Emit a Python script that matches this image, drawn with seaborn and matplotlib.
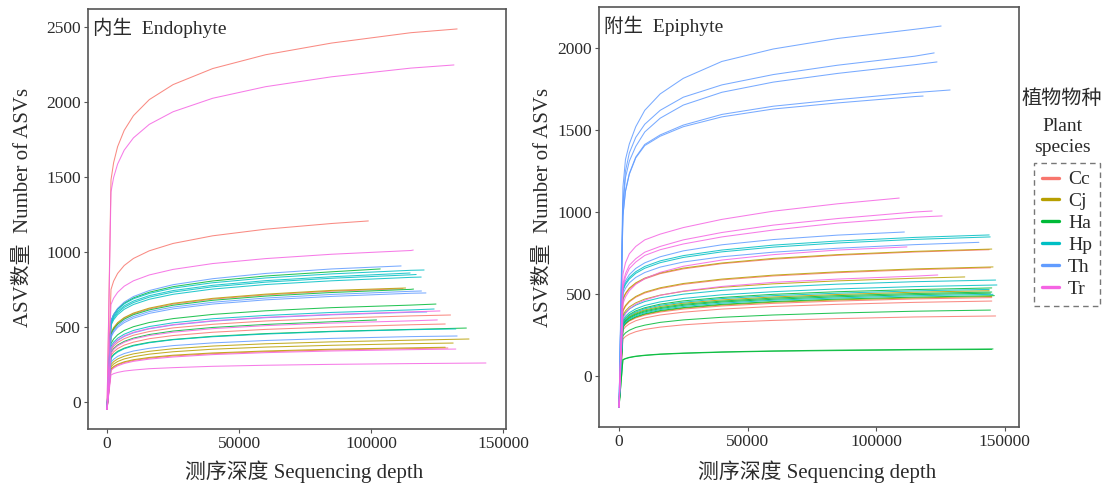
import matplotlib
matplotlib.use("Agg")
import matplotlib.pyplot as plt
import pandas as pd
import seaborn as sns
from matplotlib.lines import Line2D

# Rarefaction curves: ASV counts read at a shared set of sequencing depths,
# each curve stopping at its own final depth (last value = final depth).
grid_depths = [0, 1500, 2500, 4000, 6500, 10000, 16000, 25000, 40000, 60000, 85000, 115000]

species_order = ["Cc", "Cj", "Ha", "Hp", "Th", "Tr"]
species_colors = ["#F8766D", "#B79F00", "#00BA38", "#00BFC4", "#619CFF", "#F564E3"]

# ---- Endophyte samples ----
endo_species = ["Cc", "Tr", "Cc", "Tr", "Th", "Ha", "Hp", "Hp", "Hp", "Hp",
                "Cj", "Cc", "Ha", "Th", "Th", "Ha", "Hp", "Tr", "Th", "Cc",
                "Ha", "Tr", "Cc", "Ha", "Hp", "Th", "Cj", "Cj", "Cc", "Tr",
                "Cj", "Tr"]
endo_end_depth = [132500, 131300, 98900, 115900, 111300, 103400, 120000, 114700, 118900, 117000,
                  113000, 112000, 116000, 119000, 120700, 124500, 123800, 126000, 121000, 130000,
                  102000, 125000, 128000, 136000, 132000, 132500, 137000, 131000, 129000, 132000,
                  128000, 143400]
endo_asv = [
    [-50, 1480, 1596, 1702, 1811, 1909, 2016, 2116, 2223, 2315, 2393, 2462, 2487],
    [-50, 1400, 1497, 1586, 1679, 1761, 1851, 1935, 2025, 2102, 2168, 2226, 2247],
    [-50, 750, 806, 857, 910, 957, 1008, 1057, 1108, 1152, 1190, 1207],
    [-50, 650, 692, 731, 772, 808, 847, 884, 923, 956, 985, 1010, 1013],
    [-50, 540, 584, 624, 666, 703, 743, 782, 822, 857, 887, 907],
    [-50, 540, 582, 620, 659, 694, 732, 769, 807, 840, 868, 887],
    [-50, 540, 580, 616, 654, 688, 724, 759, 795, 827, 854, 878, 880],
    [-50, 530, 569, 604, 641, 673, 709, 743, 778, 809, 835, 860],
    [-50, 510, 548, 582, 618, 650, 685, 718, 753, 783, 808, 831, 833],
    [-50, 520, 559, 594, 631, 663, 699, 733, 768, 799, 825, 848, 850],
    [-50, 460, 496, 529, 563, 593, 626, 658, 691, 719, 744, 760],
    [-50, 455, 491, 524, 558, 588, 621, 653, 686, 714, 739, 755],
    [-50, 450, 485, 518, 552, 582, 614, 645, 678, 706, 730, 751, 753],
    [-50, 440, 475, 507, 541, 570, 603, 633, 665, 693, 717, 738, 740],
    [-50, 430, 465, 497, 529, 559, 591, 621, 653, 681, 704, 725, 727],
    [-50, 390, 420, 448, 477, 502, 530, 556, 584, 608, 629, 646, 653],
    [-50, 370, 399, 425, 452, 477, 503, 528, 555, 577, 597, 614, 620],
    [-50, 360, 388, 414, 441, 465, 491, 516, 542, 565, 584, 601, 607],
    [-50, 355, 384, 410, 437, 461, 488, 513, 539, 562, 581, 598, 600],
    [-50, 345, 372, 397, 422, 445, 470, 494, 518, 540, 558, 574, 580],
    [-50, 330, 356, 380, 404, 426, 450, 473, 497, 517, 535, 547],
    [-50, 325, 351, 374, 398, 420, 443, 465, 489, 509, 526, 541, 547],
    [-50, 310, 334, 356, 379, 399, 422, 443, 465, 484, 500, 515, 520],
    [-50, 295, 317, 338, 359, 378, 398, 417, 438, 456, 471, 484, 493],
    [-50, 290, 313, 333, 355, 374, 395, 415, 435, 453, 469, 482, 487],
    [-50, 265, 285, 304, 323, 340, 358, 376, 394, 410, 424, 436, 440],
    [-50, 250, 269, 287, 305, 321, 338, 355, 373, 388, 401, 412, 420],
    [-50, 235, 253, 270, 287, 302, 319, 335, 352, 366, 378, 389, 393],
    [-50, 215, 232, 247, 263, 277, 292, 307, 322, 335, 347, 356, 360],
    [-50, 210, 226, 241, 257, 271, 286, 300, 316, 329, 340, 349, 353],
    [-50, 220, 237, 252, 268, 282, 297, 312, 327, 340, 352, 361, 365],
    [-50, 180, 189, 197, 206, 213, 222, 229, 238, 245, 251, 256, 260],
]

# ---- Epiphyte samples ----
epi_species = ["Th", "Th", "Th", "Th", "Th", "Th", "Th", "Hp", "Hp", "Tr",
               "Tr", "Tr", "Tr", "Tr", "Cj", "Cc", "Cj", "Cc", "Cj", "Hp",
               "Hp", "Ha", "Hp", "Cj", "Ha", "Ha", "Hp", "Ha", "Cj", "Cc",
               "Cc", "Ha", "Cc", "Ha", "Ha"]
epi_end_depth = [125300, 122600, 123700, 128800, 118300, 111000, 140000, 144000, 144400, 109000,
                 121800, 125700, 112000, 124000, 145000, 144000, 145500, 144500, 134500, 146500,
                 147000, 145000, 144000, 144000, 145000, 144500, 145500, 146000, 145000, 145000,
                 145000, 144500, 146500, 145500, 145000]
epi_asv = [
    [-190, 1150, 1320, 1415, 1520, 1620, 1720, 1815, 1918, 1994, 2058, 2114, 2134],
    [-190, 1050, 1250, 1360, 1455, 1535, 1620, 1700, 1775, 1838, 1895, 1950, 1970],
    [-190, 1030, 1210, 1310, 1400, 1488, 1572, 1652, 1730, 1792, 1845, 1898, 1915],
    [-190, 980, 1130, 1235, 1335, 1412, 1470, 1530, 1595, 1645, 1685, 1728, 1744],
    [-190, 975, 1125, 1230, 1330, 1405, 1462, 1520, 1580, 1628, 1665, 1704, 1707],
    [-190, 540, 581, 618, 656, 690, 727, 763, 800, 832, 859, 878],
    [-190, 500, 535, 568, 601, 631, 664, 695, 727, 755, 779, 801, 815],
    [-190, 530, 567, 601, 636, 668, 702, 734, 768, 798, 823, 845, 860],
    [-190, 520, 557, 591, 626, 657, 691, 723, 757, 786, 811, 833, 848],
    [-190, 620, 690, 745, 790, 830, 865, 905, 955, 1005, 1050, 1085],
    [-190, 560, 625, 675, 715, 755, 790, 830, 875, 920, 960, 1000, 1006],
    [-190, 540, 605, 655, 695, 735, 770, 805, 848, 890, 932, 968, 976],
    [-190, 440, 482, 520, 559, 594, 632, 669, 707, 740, 768, 787],
    [-190, 350, 381, 409, 438, 463, 492, 518, 546, 571, 591, 609, 616],
    [-190, 470, 504, 536, 568, 597, 628, 658, 689, 717, 740, 760, 774],
    [-190, 465, 499, 531, 563, 592, 624, 653, 685, 712, 736, 756, 770],
    [-190, 400, 430, 457, 485, 511, 538, 564, 591, 615, 635, 653, 665],
    [-190, 395, 425, 452, 480, 506, 533, 559, 586, 610, 630, 648, 660],
    [-190, 370, 397, 421, 446, 469, 493, 516, 541, 562, 580, 596, 604],
    [-190, 360, 385, 409, 432, 454, 477, 499, 522, 542, 560, 575, 585],
    [-190, 340, 364, 386, 409, 430, 452, 473, 495, 514, 531, 545, 555],
    [-190, 330, 353, 375, 397, 416, 438, 458, 479, 498, 514, 527, 537],
    [-190, 325, 348, 369, 390, 410, 431, 450, 472, 490, 505, 519, 528],
    [-190, 320, 342, 363, 384, 403, 424, 444, 464, 482, 497, 511, 520],
    [-190, 315, 337, 358, 378, 397, 417, 437, 457, 475, 490, 503, 512],
    [-190, 310, 332, 352, 373, 391, 411, 431, 451, 468, 483, 496, 505],
    [-190, 305, 327, 347, 367, 385, 405, 424, 444, 462, 476, 489, 498],
    [-190, 300, 321, 341, 361, 379, 399, 417, 437, 454, 469, 481, 490],
    [-190, 298, 319, 338, 358, 376, 395, 414, 433, 450, 464, 476, 485],
    [-190, 295, 315, 335, 354, 371, 390, 408, 427, 443, 457, 470, 478],
    [-190, 280, 300, 318, 337, 354, 372, 389, 408, 424, 437, 449, 457],
    [-190, 245, 263, 279, 296, 310, 327, 342, 358, 372, 384, 395, 402],
    [-190, 225, 241, 255, 270, 284, 298, 312, 327, 339, 350, 360, 366],
    [-190, 100, 107, 114, 121, 127, 134, 140, 147, 153, 158, 162, 165],
    [-190, 98, 105, 112, 119, 125, 132, 138, 145, 151, 155, 159, 162],
]

x_ticks = [0, 50000, 100000, 150000]
endo_y_ticks = [0, 500, 1000, 1500, 2000, 2500]
epi_y_ticks = [0, 500, 1000, 1500, 2000]


def to_long(species, ends, asv):
    rows = []
    for i, (sp, end, vals) in enumerate(zip(species, ends, asv)):
        depths = [g for g in grid_depths if g < end] + [end]
        if len(depths) != len(vals):
            raise ValueError(f"sample {i}: {len(depths)} depths vs {len(vals)} values")
        for d, v in zip(depths, vals):
            rows.append((i, sp, d, v))
    return pd.DataFrame(rows, columns=["sample", "species", "depth", "asv"])


sns.set_theme(style="white")
plt.rcParams["font.family"] = ["Liberation Serif", "Noto Sans CJK SC"]

TEXT = "#2b2b2b"
FRAME = "#555555"

fig = plt.figure(figsize=(11.09, 4.93), dpi=100)
ax_l = fig.add_axes([88 / 1109, 64 / 493, 418 / 1109, 420 / 493])
ax_r = fig.add_axes([599 / 1109, 66 / 493, 420 / 1109, 420 / 493])

panels = [
    (ax_l, to_long(endo_species, endo_end_depth, endo_asv), endo_y_ticks,
     (-7200, 151000), (-180, 2620), "内生  Endophyte"),
    (ax_r, to_long(epi_species, epi_end_depth, epi_asv), epi_y_ticks,
     (-7800, 155600), (-311, 2250), "附生  Epiphyte"),
]

for ax, df, yt, xl, yl, title in panels:
    sns.lineplot(data=df, x="depth", y="asv", hue="species", hue_order=species_order,
                 palette=species_colors, units="sample", estimator=None, sort=False,
                 linewidth=0.75, alpha=0.85, legend=False, ax=ax)
    ax.set_xlim(*xl)
    ax.set_ylim(*yl)
    ax.set_xticks(x_ticks)
    ax.set_xticklabels([str(t) for t in x_ticks])
    ax.set_yticks(yt)
    ax.set_yticklabels([str(t) for t in yt])
    ax.set_xlabel("")
    ax.set_ylabel("")
    ax.tick_params(bottom=True, left=True, direction="out", length=3, width=0.8,
                   color=FRAME, labelsize=12.5, labelcolor=TEXT, pad=2)
    for s in ax.spines.values():
        s.set_color(FRAME)
        s.set_linewidth(1.2)
    ax.text(0.012, 0.955, title, transform=ax.transAxes, fontsize=14,
            color=TEXT, ha="left", va="center")

# Axis titles
fig.text(304 / 1109, 1 - 472 / 493, "测序深度 Sequencing depth", fontsize=15,
         color=TEXT, ha="center", va="center")
fig.text(817 / 1109, 1 - 472 / 493, "测序深度 Sequencing depth", fontsize=15,
         color=TEXT, ha="center", va="center")
fig.text(23 / 1109, 1 - 207 / 493, "ASV数量  Number of ASVs", fontsize=15,
         color=TEXT, ha="center", va="center", rotation=90)
fig.text(543 / 1109, 1 - 207 / 493, "ASV数量  Number of ASVs", fontsize=15,
         color=TEXT, ha="center", va="center", rotation=90)

# Legend
fig.text(1062 / 1109, 1 - 100 / 493, "植物物种", fontsize=14.5, color=TEXT,
         ha="center", va="center")
fig.text(1062 / 1109, 1 - 127 / 493, "Plant", fontsize=14, color=TEXT,
         ha="center", va="center")
fig.text(1062 / 1109, 1 - 148 / 493, "species", fontsize=14, color=TEXT,
         ha="center", va="center")
handles = [Line2D([0], [0], color=c, lw=2.4) for c in species_colors]
leg = fig.legend(handles, species_order, loc="upper left",
                 bbox_to_anchor=(1034 / 1109, 1 - 163 / 493), fontsize=14,
                 frameon=True, handlelength=0.9, handletextpad=0.45,
                 labelspacing=0.22, borderpad=0.4, borderaxespad=0,
                 fancybox=False, labelcolor=TEXT)
frame = leg.get_frame()
frame.set_linestyle((0, (4, 3)))
frame.set_edgecolor("#555555")
frame.set_linewidth(1.0)
frame.set_facecolor("white")

fig.savefig("out.png", dpi=100)
